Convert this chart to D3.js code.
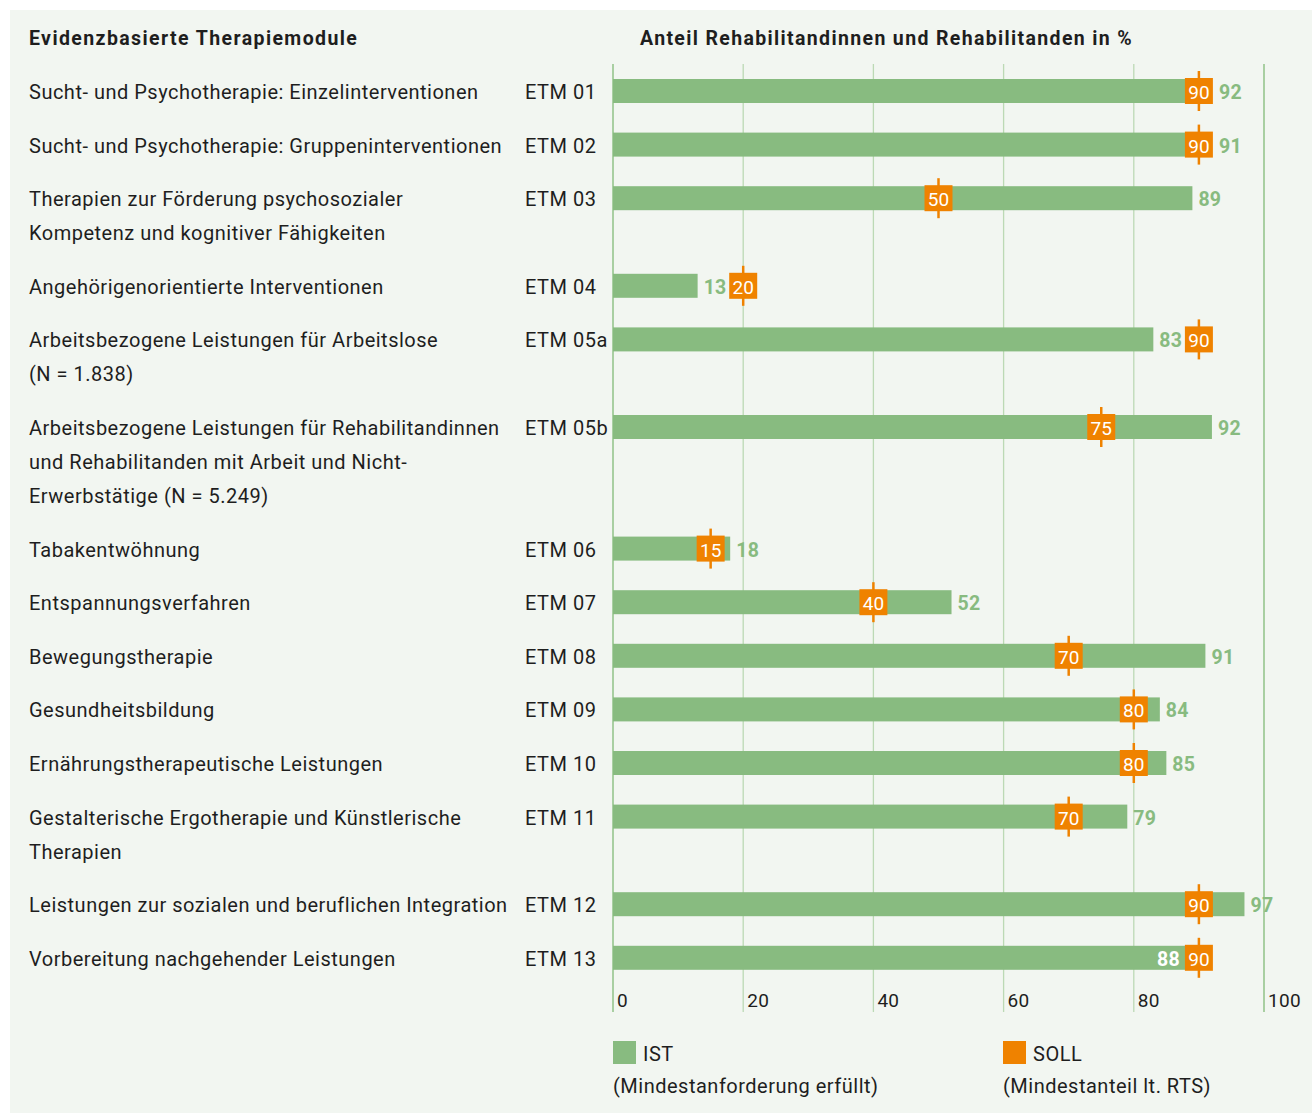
<!DOCTYPE html>
<html>
<head>
<meta charset="utf-8">
<script src="https://cdn.jsdelivr.net/npm/d3@7"></script>
<style>
  body { margin: 0; background: #fff; }
  text { font-family: Roboto, "Noto Sans", sans-serif; }
</style>
</head>
<body>
<div id="chart"></div>
<script>
// data
const codes = ["ETM 01", "ETM 02", "ETM 03", "ETM 04", "ETM 05a", "ETM 05b", "ETM 06",
               "ETM 07", "ETM 08", "ETM 09", "ETM 10", "ETM 11", "ETM 12", "ETM 13"];
const labels = [
  ["Sucht- und Psychotherapie: Einzelinterventionen"],
  ["Sucht- und Psychotherapie: Gruppeninterventionen"],
  ["Therapien zur Förderung psychosozialer", "Kompetenz und kognitiver Fähigkeiten"],
  ["Angehörigenorientierte Interventionen"],
  ["Arbeitsbezogene Leistungen für Arbeitslose", "(N = 1.838)"],
  ["Arbeitsbezogene Leistungen für Rehabilitandinnen", "und Rehabilitanden mit Arbeit und Nicht-", "Erwerbstätige (N = 5.249)"],
  ["Tabakentwöhnung"],
  ["Entspannungsverfahren"],
  ["Bewegungstherapie"],
  ["Gesundheitsbildung"],
  ["Ernährungstherapeutische Leistungen"],
  ["Gestalterische Ergotherapie und Künstlerische", "Therapien"],
  ["Leistungen zur sozialen und beruflichen Integration"],
  ["Vorbereitung nachgehender Leistungen"]
];
const ist  = [92, 91, 89, 13, 83, 92, 18, 52, 91, 84, 85, 79, 97, 88];
const soll = [90, 90, 50, 20, 90, 75, 15, 40, 70, 80, 80, 70, 90, 90];
const xTicks = [0, 20, 40, 60, 80, 100];

const width = 1312, height = 1113;
const green = "#88bb80", orange = "#ef8200", ink = "#1e1e1e";
const fs = 20, ls = 0.5;

const svg = d3.select("#chart").append("svg")
  .attr("width", width).attr("height", height);

// panel
svg.append("rect").attr("x", 10).attr("y", 10)
  .attr("width", width - 10).attr("height", height - 10)
  .attr("fill", "#f2f6f1");

const x = d3.scaleLinear().domain([0, 100]).range([613, 1264]);

// row centres: each extra label line adds space
const rowStep = 53.6, lineStep = 34;
const rowY = [];
let yy = 91;
labels.forEach((l, i) => {
  rowY.push(yy);
  yy += rowStep + (l.length - 1) * lineStep;
});

// headers
svg.append("text").attr("x", 29).attr("y", 45)
  .attr("font-size", 19.5).attr("font-weight", "bold").attr("fill", ink)
  .attr("letter-spacing", 1.4)
  .text("Evidenzbasierte Therapiemodule");
svg.append("text").attr("x", 640).attr("y", 45)
  .attr("font-size", 19.5).attr("font-weight", "bold").attr("fill", ink)
  .attr("letter-spacing", 1.35)
  .text("Anteil Rehabilitandinnen und Rehabilitanden in %");

// grid
svg.append("g").selectAll("line").data(xTicks).join("line")
  .attr("x1", d => x(d)).attr("x2", d => x(d))
  .attr("y1", 64).attr("y2", 1012)
  .attr("stroke", d => (d === 0 || d === 100) ? "#a9cfa2" : "#bcd9b5")
  .attr("stroke-width", d => (d === 0 || d === 100) ? 2 : 1.3);

svg.append("g").selectAll("text").data(xTicks).join("text")
  .attr("x", d => x(d) + 4).attr("y", 1007)
  .attr("font-size", 19).attr("fill", ink).attr("letter-spacing", 0.3)
  .text(d => d);

// labels
const rows = svg.append("g").selectAll("g").data(codes).join("g");
rows.each(function(c, i) {
  const g = d3.select(this);
  labels[i].forEach((t, j) => {
    g.append("text").attr("x", 29).attr("y", rowY[i] + 8 + j * lineStep)
      .attr("font-size", fs).attr("letter-spacing", ls).attr("fill", ink).text(t);
  });
  g.append("text").attr("x", 525).attr("y", rowY[i] + 8)
    .attr("font-size", fs).attr("letter-spacing", ls).attr("fill", ink).text(c);
});

// bars
const barH = 24, boxW = 28, boxH = 26;
rows.append("rect")
  .attr("x", x(0)).attr("y", (d, i) => rowY[i] - barH / 2)
  .attr("width", (d, i) => x(ist[i]) - x(0)).attr("height", barH)
  .attr("fill", green);

// soll markers
rows.append("line")
  .attr("x1", (d, i) => x(soll[i])).attr("x2", (d, i) => x(soll[i]))
  .attr("y1", (d, i) => rowY[i] - 20).attr("y2", (d, i) => rowY[i] + 20)
  .attr("stroke", orange).attr("stroke-width", 2.5);
rows.append("rect")
  .attr("x", (d, i) => x(soll[i]) - boxW / 2).attr("y", (d, i) => rowY[i] - boxH / 2)
  .attr("width", boxW).attr("height", boxH)
  .attr("fill", orange);
rows.append("text")
  .attr("x", (d, i) => x(soll[i])).attr("y", (d, i) => rowY[i] + 8)
  .attr("text-anchor", "middle").attr("font-size", 19).attr("fill", "#fff")
  .text((d, i) => soll[i]);

// ist values
rows.append("text")
  .each(function(d, i) {
    const end = x(ist[i]);
    const boxL = x(soll[i]) - boxW / 2, boxR = x(soll[i]) + boxW / 2;
    const t = d3.select(this).attr("y", rowY[i] + 8)
      .attr("font-size", 19.5).attr("font-weight", "bold").attr("letter-spacing", 0.3);
    if (soll[i] > ist[i] && boxL - end < 30) {
      // no room between bar end and marker: put value inside the bar
      t.attr("x", boxL - 5).attr("text-anchor", "end").attr("fill", "#fff");
    } else {
      const start = (boxL < end + 4 && boxR > end) ? boxR : end;
      t.attr("x", start + 6).attr("fill", green);
    }
  })
  .text((d, i) => ist[i]);

// legend
const legend = [
  { x: 613, color: green, name: "IST", note: "(Mindestanforderung erfüllt)" },
  { x: 1003, color: orange, name: "SOLL", note: "(Mindestanteil lt. RTS)" }
];
const lg = svg.append("g").selectAll("g").data(legend).join("g");
lg.append("rect").attr("x", d => d.x).attr("y", 1041)
  .attr("width", 23).attr("height", 23).attr("fill", d => d.color);
lg.append("text").attr("x", d => d.x + 30).attr("y", 1061)
  .attr("font-size", fs).attr("letter-spacing", ls).attr("fill", ink).text(d => d.name);
lg.append("text").attr("x", d => d.x).attr("y", 1093)
  .attr("font-size", fs).attr("letter-spacing", ls).attr("fill", ink).text(d => d.note);
</script>
</body>
</html>
